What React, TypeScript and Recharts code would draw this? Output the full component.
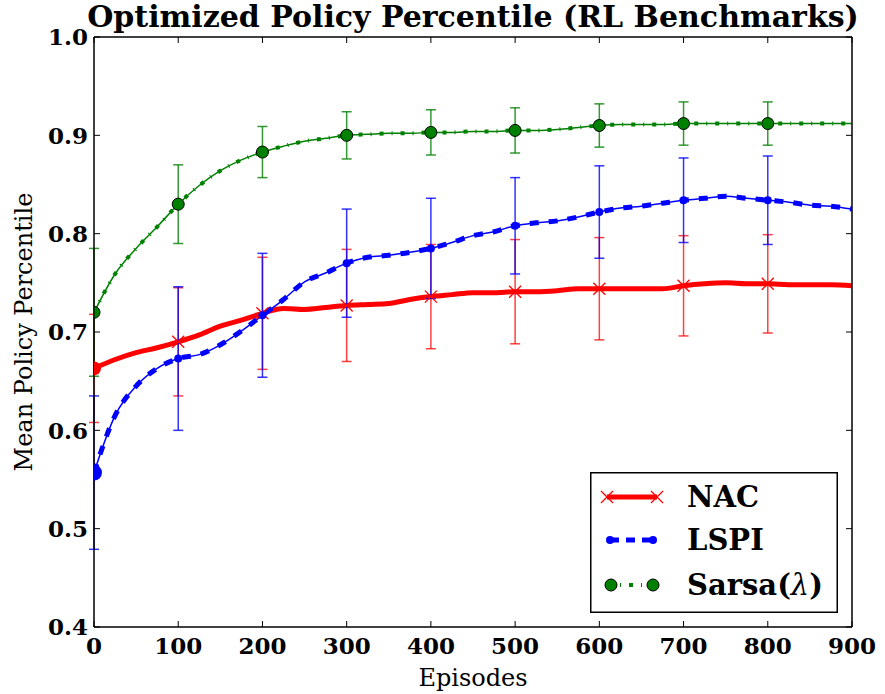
import React from 'react';
import { LineChart, Line, XAxis, YAxis, ErrorBar, Legend } from 'recharts';

const episodes = [0, 25, 50, 75, 100, 125, 150, 175, 200, 225, 250, 275, 300, 325, 350, 375, 400, 425, 450, 475, 500, 525, 550, 575, 600, 625, 650, 675, 700, 725, 750, 775, 800, 825, 850, 875, 900];
const nacMean = [0.663, 0.672, 0.679, 0.684, 0.690, 0.697, 0.706, 0.712, 0.719, 0.724, 0.723, 0.725, 0.727, 0.728, 0.729, 0.733, 0.736, 0.738, 0.740, 0.740, 0.741, 0.741, 0.742, 0.744, 0.744, 0.744, 0.744, 0.744, 0.747, 0.749, 0.750, 0.749, 0.749, 0.748, 0.748, 0.748, 0.747];
const lspiMean = [0.557, 0.615, 0.645, 0.663, 0.673, 0.677, 0.687, 0.701, 0.717, 0.733, 0.751, 0.760, 0.770, 0.776, 0.778, 0.781, 0.785, 0.791, 0.798, 0.802, 0.808, 0.811, 0.813, 0.817, 0.822, 0.826, 0.828, 0.831, 0.834, 0.836, 0.838, 0.836, 0.834, 0.832, 0.829, 0.828, 0.825];
const sarsaMean = [0.720, 0.759, 0.785, 0.807, 0.830, 0.849, 0.864, 0.875, 0.883, 0.889, 0.894, 0.897, 0.900, 0.901, 0.902, 0.902, 0.903, 0.903, 0.904, 0.904, 0.905, 0.905, 0.906, 0.908, 0.910, 0.911, 0.911, 0.911, 0.912, 0.912, 0.912, 0.912, 0.912, 0.912, 0.912, 0.912, 0.912];

const markerEpisodes = [0, 100, 200, 300, 400, 500, 600, 700, 800];
const nacError = [0.055, 0.055, 0.057, 0.057, 0.053, 0.053, 0.052, 0.051, 0.050];
const lspiError = [0.078, 0.073, 0.063, 0.055, 0.051, 0.049, 0.047, 0.043, 0.045];
const sarsaError = [0.065, 0.040, 0.026, 0.024, 0.023, 0.023, 0.022, 0.022, 0.022];

const xTicks = [0, 100, 200, 300, 400, 500, 600, 700, 800, 900];
const yTicks = [0.4, 0.5, 0.6, 0.7, 0.8, 0.9, 1.0];
const seriesNames = ['NAC', 'LSPI', 'Sarsa(λ)'];
const title = 'Optimized Policy Percentile (RL Benchmarks)';
const xLabel = 'Episodes';
const yLabel = 'Mean Policy Percentile';

const RED = '#ff0000';
const BLUE = '#0000ff';
const GREEN = '#008000';
const FONT = 'DejaVu Serif';

const rows = episodes.map((ep, i) => {
  const m = markerEpisodes.indexOf(ep);
  return {
    ep,
    nac: nacMean[i],
    lspi: lspiMean[i],
    sarsa: sarsaMean[i],
    mark: m >= 0,
    nacErr: m >= 0 ? nacError[m] : undefined,
    lspiErr: m >= 0 ? lspiError[m] : undefined,
    sarsaErr: m >= 0 ? sarsaError[m] : undefined,
  };
});

const TICK_LEN = 6;
const X_MARGIN = 10;
const Y_MARGIN = 6;
const tickText = { fontFamily: FONT, fontWeight: 'bold' as const, fontSize: 23, fill: '#000' };

const BottomTick = (p: any) => {
  const { x, y, payload } = p;
  const ay = y - X_MARGIN;
  return (
    <g>
      <line x1={x} x2={x} y1={ay} y2={ay - TICK_LEN} stroke="#000" strokeWidth={1} />
      <text x={x} y={y} dy="0.73em" textAnchor="middle" style={tickText}>{String(payload.value)}</text>
    </g>
  );
};

const LeftTick = (p: any) => {
  const { x, y, payload } = p;
  const ax = x + Y_MARGIN;
  return (
    <g>
      <line x1={ax} x2={ax + TICK_LEN} y1={y} y2={y} stroke="#000" strokeWidth={1} />
      <text x={x} y={y} dy="0.36em" textAnchor="end" style={tickText}>{Number(payload.value).toFixed(1)}</text>
    </g>
  );
};

const TopTick = (p: any) => {
  const { x, y } = p;
  return <line x1={x} x2={x} y1={y} y2={y + TICK_LEN} stroke="#000" strokeWidth={1} />;
};

const RightTick = (p: any) => {
  const { x, y } = p;
  return <line x1={x} x2={x - TICK_LEN} y1={y} y2={y} stroke="#000" strokeWidth={1} />;
};

const halfCircle = (cx: number, cy: number, r: number) =>
  `M${cx},${cy - r} A${r},${r} 0 0 1 ${cx},${cy + r} Z`;

const NacDot = (p: any) => {
  const { cx, cy, payload, index } = p;
  if (!payload || !payload.mark || cx == null || cy == null) return <g key={`n${index}`} />;
  if (payload.ep === 0) return <path key={`n${index}`} d={halfCircle(cx, cy, 7)} fill={RED} />;
  const s = 6;
  return (
    <g key={`n${index}`}>
      <line x1={cx - s} y1={cy - s} x2={cx + s} y2={cy + s} stroke={RED} strokeWidth={1.3} />
      <line x1={cx - s} y1={cy + s} x2={cx + s} y2={cy - s} stroke={RED} strokeWidth={1.3} />
    </g>
  );
};

const LspiDot = (p: any) => {
  const { cx, cy, payload, index } = p;
  if (!payload || !payload.mark || cx == null || cy == null) return <g key={`l${index}`} />;
  if (payload.ep === 0) return <path key={`l${index}`} d={halfCircle(cx, cy, 8)} fill={BLUE} />;
  return <circle key={`l${index}`} cx={cx} cy={cy} r={4} fill={BLUE} />;
};

const SarsaDot = (p: any) => {
  const { cx, cy, payload, index } = p;
  if (!payload || !payload.mark || cx == null || cy == null) return <g key={`s${index}`} />;
  if (payload.ep === 0) return <path key={`s${index}`} d={halfCircle(cx, cy, 6)} fill={GREEN} stroke="#000" strokeWidth={1} />;
  return <circle key={`s${index}`} cx={cx} cy={cy} r={6} fill={GREEN} stroke="#000" strokeWidth={1} />;
};

const legendText = { fontFamily: FONT, fontWeight: 'bold' as const, fontSize: 29, fill: '#000' };

const renderLegendName = (name: string) => {
  const k = name.indexOf('λ');
  if (k < 0) return name;
  return (
    <>
      {name.slice(0, k)}
      <tspan style={{ fontStyle: 'italic', fontWeight: 'normal' }}>λ</tspan>
      {name.slice(k + 1)}
    </>
  );
};

const LegendBox = () => (
  <svg width={248} height={141} style={{ display: 'block' }}>
    <rect x={0.75} y={0.75} width={246.5} height={139.5} fill="#fff" stroke="#000" strokeWidth={1.5} />
    <line x1={17} x2={67} y1={25} y2={25} stroke={RED} strokeWidth={5} />
    {[17, 67].map((cx) => (
      <g key={cx}>
        <line x1={cx - 6} y1={19} x2={cx + 6} y2={31} stroke={RED} strokeWidth={1.3} />
        <line x1={cx - 6} y1={31} x2={cx + 6} y2={19} stroke={RED} strokeWidth={1.3} />
      </g>
    ))}
    <text x={97} y={25} dy="0.36em" style={legendText}>{renderLegendName(seriesNames[0])}</text>

    <line x1={20} x2={63} y1={68} y2={68} stroke={BLUE} strokeWidth={5} strokeDasharray="9 7" />
    <circle cx={20} cy={68} r={4} fill={BLUE} />
    <circle cx={63} cy={68} r={4} fill={BLUE} />
    <text x={97} y={68} dy="0.36em" style={legendText}>{renderLegendName(seriesNames[1])}</text>

    <line x1={21} x2={63} y1={113} y2={113} stroke={GREEN} strokeWidth={4} strokeDasharray="1 8 4 8" strokeDashoffset={-9} />
    <circle cx={21} cy={113} r={6} fill={GREEN} stroke="#000" strokeWidth={1} />
    <circle cx={63} cy={113} r={6} fill={GREEN} stroke="#000" strokeWidth={1} />
    <text x={97} y={113} dy="0.36em" style={legendText}>{renderLegendName(seriesNames[2])}</text>
  </svg>
);

export default function App() {
  return (
    <div style={{ position: 'absolute', left: 0, top: 0, width: 885, height: 694, background: '#fff' }}>
      <LineChart
        width={885}
        height={694}
        data={rows}
        margin={{ top: 36, right: 32, bottom: 37, left: 34 }}
      >
        <XAxis
          dataKey="ep"
          type="number"
          domain={[0, 900]}
          ticks={xTicks}
          interval={0}
          allowDataOverflow
          height={30}
          tickSize={0}
          tickMargin={X_MARGIN}
          tickLine={false}
          axisLine={{ stroke: '#000', strokeWidth: 1.5 }}
          tick={(p: any) => <BottomTick {...p} />}
          label={{ value: xLabel, position: 'bottom', offset: 12, style: { fontFamily: FONT, fontSize: 24, fill: '#000' } }}
        />
        <XAxis
          xAxisId="top"
          orientation="top"
          dataKey="ep"
          type="number"
          domain={[0, 900]}
          ticks={xTicks}
          interval={0}
          allowDataOverflow
          height={1}
          tickSize={0}
          tickMargin={0}
          tickLine={false}
          axisLine={{ stroke: '#000', strokeWidth: 1.5 }}
          tick={(p: any) => <TopTick {...p} />}
          label={{ value: title, position: 'top', offset: 9, style: { fontFamily: FONT, fontWeight: 'bold', fontSize: 30, fill: '#000' } }}
        />
        <YAxis
          type="number"
          domain={[0.4, 1.0]}
          ticks={yTicks}
          interval={0}
          allowDataOverflow
          width={60}
          tickSize={0}
          tickMargin={Y_MARGIN}
          tickLine={false}
          axisLine={{ stroke: '#000', strokeWidth: 1.5 }}
          tick={(p: any) => <LeftTick {...p} />}
          label={{ value: yLabel, angle: -90, position: 'insideLeft', offset: -11, style: { textAnchor: 'middle', fontFamily: FONT, fontSize: 24, fill: '#000' } }}
        />
        <YAxis
          yAxisId="right"
          orientation="right"
          type="number"
          domain={[0.4, 1.0]}
          ticks={yTicks}
          interval={0}
          allowDataOverflow
          width={1}
          tickSize={0}
          tickMargin={0}
          tickLine={false}
          axisLine={{ stroke: '#000', strokeWidth: 1.5 }}
          tick={(p: any) => <RightTick {...p} />}
        />

        <Line
          dataKey="nac"
          type="monotone"
          stroke={RED}
          strokeWidth={5}
          dot={(p: any) => <NacDot {...p} key={`nd${p.index}`} />}
          activeDot={false}
          isAnimationActive={false}
        >
          <ErrorBar dataKey="nacErr" direction="y" width={5} stroke={RED} strokeWidth={1.5} strokeOpacity={0.75} />
        </Line>

        <Line
          dataKey="lspi"
          type="monotone"
          stroke={BLUE}
          strokeWidth={1.5}
          dot={false}
          activeDot={false}
          isAnimationActive={false}
        />
        <Line
          dataKey="lspi"
          type="monotone"
          stroke={BLUE}
          strokeWidth={5}
          strokeDasharray="9 10"
          dot={(p: any) => <LspiDot {...p} key={`ld${p.index}`} />}
          activeDot={false}
          isAnimationActive={false}
          legendType="none"
        >
          <ErrorBar dataKey="lspiErr" direction="y" width={5} stroke={BLUE} strokeWidth={1.5} strokeOpacity={0.8} />
        </Line>

        <Line
          dataKey="sarsa"
          type="monotone"
          stroke={GREEN}
          strokeWidth={1.5}
          dot={false}
          activeDot={false}
          isAnimationActive={false}
        />
        <Line
          dataKey="sarsa"
          type="monotone"
          stroke={GREEN}
          strokeWidth={4}
          strokeDasharray="4 8 1 8"
          dot={(p: any) => <SarsaDot {...p} key={`sd${p.index}`} />}
          activeDot={false}
          isAnimationActive={false}
          legendType="none"
        >
          <ErrorBar dataKey="sarsaErr" direction="y" width={5} stroke={GREEN} strokeWidth={1.5} strokeOpacity={0.8} />
        </Line>

        <Legend
          layout="vertical"
          align="center"
          verticalAlign="middle"
          wrapperStyle={{ left: 590, top: 472, width: 248, height: 141 }}
          content={() => <LegendBox />}
        />
      </LineChart>
    </div>
  );
}
